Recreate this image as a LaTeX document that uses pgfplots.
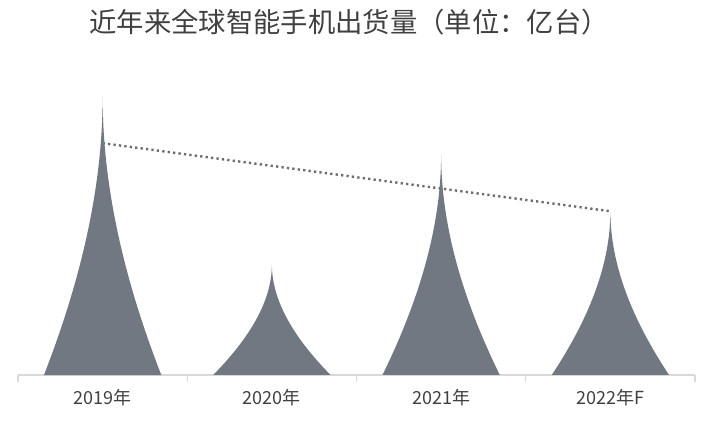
\documentclass[border=0pt]{standalone}
\usepackage{fontspec}
\setmainfont{Noto Sans CJK SC}
\usepackage{pgfplots}
\usepackage{pgfplotstable}
\pgfplotsset{compat=1.18}

\definecolor{spikegray}{RGB}{113,120,129}
\definecolor{trendgray}{RGB}{108,108,112}
\definecolor{axisgray}{RGB}{217,217,217}
\definecolor{textgray}{RGB}{64,64,64}

% shipments, 100 million units
\pgfplotstableread{
x  y
1  13.71
2  12.92
3  13.44
4  13.17
}\shipments

% dotted linear trend line
\pgfplotstableread{
x  y
1  13.49
4  13.17
}\trend

% baseline of the spikes and vertical unit (pt per unit)
\def\ybase{12.4}
\def\yunit{159.5}

% concave "spike" bar, drawn down from the data point to the baseline
\pgfdeclareplotmark{spike}{%
  \pgfmathsetmacro\h{(\rawy-\ybase)*\yunit}%
  \pgfpathmoveto{\pgfpoint{-44pt}{-\h pt}}%
  \pgfpathcurveto{\pgfpoint{-16.9pt}{-0.667*\h pt}}{\pgfpoint{0pt}{-0.333*\h pt}}{\pgfpoint{0pt}{0pt}}%
  \pgfpathcurveto{\pgfpoint{0pt}{-0.333*\h pt}}{\pgfpoint{16.9pt}{-0.667*\h pt}}{\pgfpoint{44pt}{-\h pt}}%
  \pgfpathclose
  \pgfusepathqfill
}

\begin{document}
\begin{tikzpicture}
\useasboundingbox (0,0) rectangle (534pt,320.25pt);
\begin{axis}[
  at={(13.5pt,39pt)}, anchor=south west,
  x=126.94pt, y=\yunit pt,
  xmin=0.5, xmax=4.5,
  ymin=\ybase, ymax=13.75,
  axis x line*=bottom, axis y line=none,
  x axis line style={draw=axisgray, line width=1.2pt, -},
  xtick={0.5,1.5,2.5,3.5,4.5},
  x tick label as interval,
  xticklabels={2019年,2020年,2021年,2022年F},
  tick align=outside,
  major tick length=5pt,
  xtick style={draw=axisgray, line width=1pt},
  x tick label style={font=\fontsize{13.5}{16}\selectfont, text=textgray, yshift=-2.5pt},
  ytick=\empty,
  clip=false,
  title={近年来全球智能手机出货量（单位：亿台）},
  title style={at={(0.489,1.202)}, anchor=center, font=\fontsize{20.5}{24}\selectfont, text=textgray},
]
  \addplot[scatter, only marks, mark=spike, color=spikegray,
    visualization depends on={rawy \as \rawy},
    scatter/@pre marker code/.code={},
    scatter/@post marker code/.code={}]
    table[x=x, y=y] {\shipments};

  \addplot[trendgray, line width=1.8pt, line cap=butt,
    dash pattern=on 1.7pt off 2.4pt]
    table[x=x, y=y] {\trend};
\end{axis}
\end{tikzpicture}
\end{document}
